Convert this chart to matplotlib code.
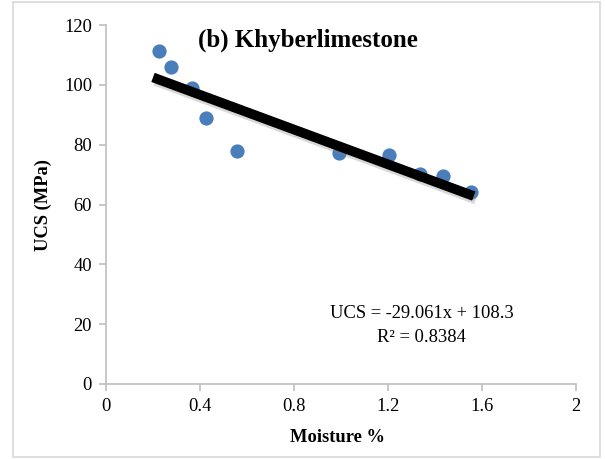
import numpy as np
import matplotlib
matplotlib.use("Agg")
import matplotlib.pyplot as plt
import matplotlib.patheffects as pe
from matplotlib.patches import Rectangle

# moisture (%) and UCS (MPa)
moisture = [0.226, 0.277, 0.366, 0.426, 0.557, 0.99, 1.204, 1.336, 1.434, 1.553]
ucs = [111.3, 106.0, 99.0, 89.0, 78.0, 77.2, 76.4, 70.2, 69.5, 64.2]

# trend line given on the chart
slope = -29.061
intercept = 108.3
r2 = 0.8384

xticks = [0, 0.4, 0.8, 1.2, 1.6, 2]
xticklabels = ["0", "0.4", "0.8", "1.2", "1.6", "2"]
yticks = [0, 20, 40, 60, 80, 100, 120]

plt.rcParams['font.family'] = ['Liberation Serif', 'DejaVu Serif']

fig = plt.figure(figsize=(6.05, 4.59), dpi=100)
ax = fig.add_axes([0.1752, 0.1634, 0.7769, 0.7821])

# grey border around the whole chart area
fig.patches.append(Rectangle((13/605, 2/459), 587/605, 455/459, transform=fig.transFigure,
                             fill=False, edgecolor="#D9D9D9", linewidth=1.2))

ax.scatter(moisture, ucs, s=105, color="#4A7EBB", zorder=2, linewidths=0)

xl = np.array([0.2, 1.565])
ax.plot(xl, slope*xl + intercept, color="black", linewidth=7, solid_capstyle="butt", zorder=3,
        path_effects=[pe.SimpleLineShadow(offset=(1.5, -2.5), shadow_color="gray", alpha=0.3),
                      pe.Normal()])

ax.set_xlim(0, 2)
ax.set_ylim(0, 120)
ax.set_xticks(xticks)
ax.set_xticklabels(xticklabels)
ax.set_yticks(yticks)

for s in ["top", "right"]:
    ax.spines[s].set_visible(False)
for s in ["left", "bottom"]:
    ax.spines[s].set_color("#BFBFBF")
    ax.spines[s].set_linewidth(1.2)
ax.tick_params(axis="both", colors="#BFBFBF", length=5, width=1.2, labelsize=13.3,
               labelcolor="black", direction="out")
ax.tick_params(axis="y", pad=5)
ax.tick_params(axis="x", pad=5)

fig.text(308/605, 1-40/459, "(b) Khyberlimestone", fontsize=18, fontweight="bold",
         ha="center", va="center")
fig.text(422/605, 1-314/459, "UCS = %.3fx + %.1f" % (slope, intercept), fontsize=13.3,
         ha="center", va="center")
fig.text(421/605, 1-337/459, "R² = %.4f" % r2, fontsize=13.3, ha="center", va="center")

fig.text(338/605, 1-437/459, "Moisture %", fontsize=13.3, fontweight="bold",
         ha="center", va="center")
fig.text(43/605, 1-205/459, "UCS (MPa)", fontsize=13.3, fontweight="bold",
         ha="center", va="center", rotation=90)

fig.savefig("out.png", dpi=100)
